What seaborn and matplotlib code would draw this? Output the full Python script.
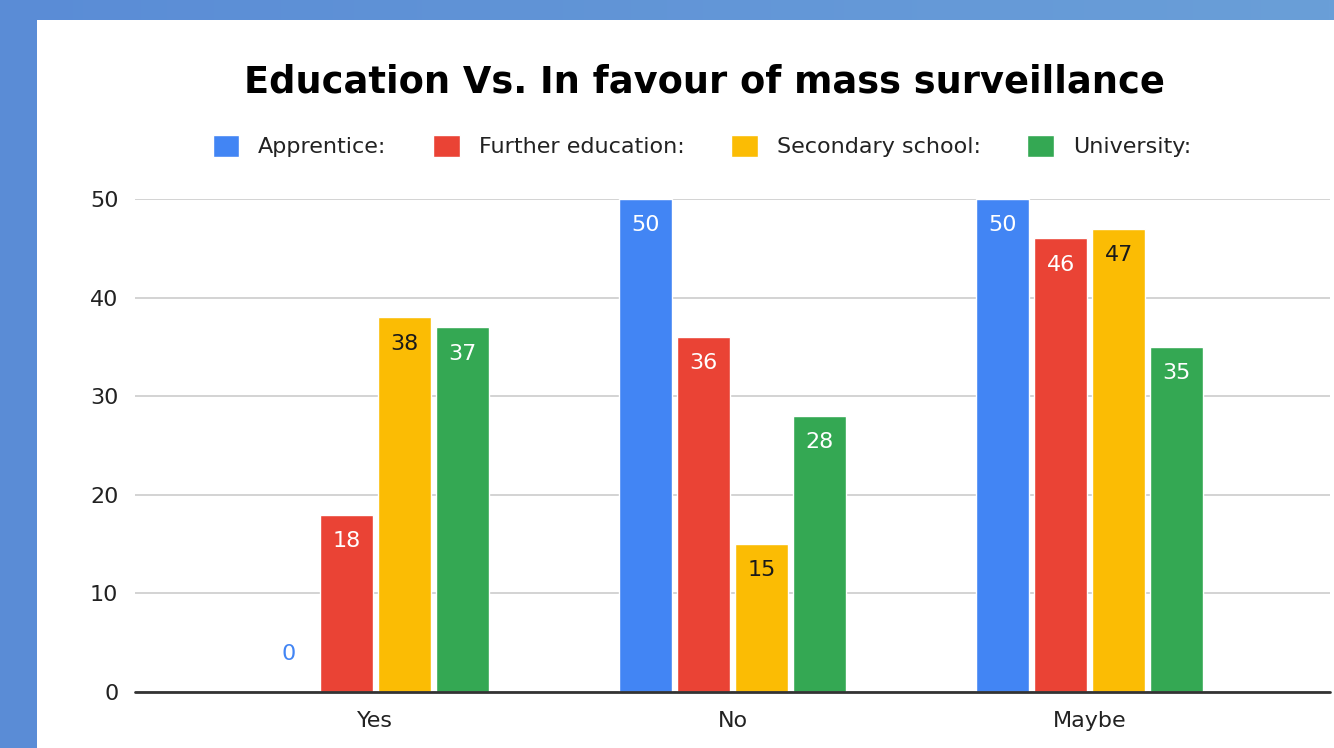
import numpy as np
import pandas as pd
import matplotlib
matplotlib.use("Agg")
import matplotlib.pyplot as plt
import seaborn as sns
from matplotlib.patches import Rectangle
from matplotlib.colors import LinearSegmentedColormap

# Survey answers and counts per education level
answers = ["Yes", "No", "Maybe"]
groups = ["Apprentice:", "Further education:", "Secondary school:", "University:"]
apprentice = [0, 50, 50]
further_education = [18, 36, 46]
secondary_school = [38, 15, 47]
university = [37, 28, 35]
y_ticks = [0, 10, 20, 30, 40, 50]
title = "Education Vs. In favour of mass surveillance"

colors = ["#4285F4", "#EA4335", "#FBBC04", "#34A853"]
label_colors = ["white", "white", "#1a1a1a", "white"]

df = pd.DataFrame({
    "answer": answers * 4,
    "group": sum([[g] * 3 for g in groups], []),
    "value": apprentice + further_education + secondary_school + university,
})

sns.set_theme(style="white")
plt.rcParams["font.family"] = ["DejaVu Sans"]

W, H = 1334, 748
fig = plt.figure(figsize=(W / 100, H / 100), dpi=100)

# Blue backdrop with the white card on top
bg = fig.add_axes([0, 0, 1, 1], zorder=-10)
grad = np.linspace(0, 1, 256)[None, :]
bg.imshow(grad, aspect="auto", extent=[0, 1, 0, 1],
          cmap=LinearSegmentedColormap.from_list("bg", ["#5a8cd6", "#6a9fd8"]))
bg.add_patch(Rectangle((37 / W, 0), 1 - 37 / W, (H - 20) / H,
                       facecolor="white", edgecolor="none"))
bg.set_xlim(0, 1)
bg.set_ylim(0, 1)
bg.axis("off")

ax = fig.add_axes([135 / W, (H - 692) / H, (1330 - 135) / W, (692 - 199) / H])
ax.set_facecolor("none")

sns.barplot(data=df, x="answer", y="value", hue="group", hue_order=groups,
            order=answers, palette=colors, saturation=1, width=0.65, gap=0.09,
            ax=ax, zorder=3)

ax.set_xlim(-0.673, 2.673)
ax.set_ylim(0, 50)
ax.set_yticks(y_ticks)
ax.set_xlabel("")
ax.set_ylabel("")
for s in ax.spines.values():
    s.set_visible(False)
ax.yaxis.grid(True, color="#cccccc", lw=1.2, zorder=0)
ax.axhline(0, color="#333333", lw=2, zorder=4, clip_on=False)
ax.tick_params(axis="both", length=0, labelsize=16, labelcolor="#222222")
ax.tick_params(axis="y", pad=12)
ax.tick_params(axis="x", pad=14)

# Value labels: inside the bar top, or above the baseline for empty bars
for cont, lc, bc in zip(ax.containers, label_colors, colors):
    for bar in cont:
        h = bar.get_height()
        cx = bar.get_x() + bar.get_width() / 2
        if h > 3:
            ax.annotate(f"{h:.0f}", (cx, h), xytext=(0, -19), textcoords="offset points",
                        ha="center", va="center", fontsize=16, color=lc, zorder=5)
        else:
            ax.annotate(f"{h:.0f}", (cx, h), xytext=(0, 27), textcoords="offset points",
                        ha="center", va="center", fontsize=16, color=bc, zorder=5)

handles, labels = ax.get_legend_handles_labels()
ax.legend(handles, labels, ncol=4, loc="center", frameon=False,
          bbox_to_anchor=(702 / W, 1 - 146 / H), bbox_transform=fig.transFigure,
          fontsize=16, handlelength=1.2, handleheight=1.2, handletextpad=0.85,
          columnspacing=2.1, labelcolor="#222222")

fig.text(704 / W, 1 - 82 / H, title, ha="center", va="center",
         fontsize=26.5, fontweight="bold", color="black")

fig.savefig("out.png", dpi=100)
